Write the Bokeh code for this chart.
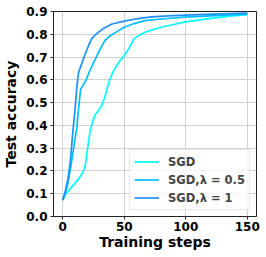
from bokeh.plotting import figure
from bokeh.models import Range1d, Legend, LegendItem, FixedTicker, CustomJSTickFormatter
from bokeh.embed import file_html
from bokeh.resources import INLINE

# SGD
steps_sgd = [0, 2, 5, 9, 13, 16, 18, 19, 20, 21, 22.5, 24, 26, 29, 31, 34, 36, 38, 41, 43, 46, 50, 54, 58, 62, 67, 73, 80, 90, 99, 110, 125, 140, 150]
acc_sgd = [0.072, 0.095, 0.115, 0.14, 0.165, 0.19, 0.215, 0.25, 0.29, 0.33, 0.38, 0.41, 0.443, 0.465, 0.48, 0.52, 0.56, 0.597, 0.635, 0.655, 0.68, 0.707, 0.74, 0.78, 0.795, 0.809, 0.82, 0.831, 0.843, 0.853, 0.862, 0.873, 0.882, 0.886]
# SGD, lambda = 0.5
steps_05 = [0, 2, 4, 6, 8, 10, 11.5, 13, 14.6, 17, 19, 22, 26, 30, 34, 37, 42, 50, 58, 67, 80, 99, 120, 150]
acc_05 = [0.072, 0.1, 0.14, 0.2, 0.27, 0.34, 0.39, 0.48, 0.56, 0.58, 0.6, 0.64, 0.685, 0.73, 0.77, 0.787, 0.805, 0.831, 0.847, 0.86, 0.867, 0.875, 0.881, 0.888]
# SGD, lambda = 1
steps_1 = [0, 2, 4, 5, 6.5, 8, 10, 11.5, 12.8, 14, 15.4, 18, 21, 23.4, 27, 32.7, 40, 50, 60, 72, 90, 110, 130, 150]
acc_1 = [0.072, 0.11, 0.16, 0.19, 0.26, 0.36, 0.47, 0.57, 0.63, 0.65, 0.67, 0.71, 0.75, 0.78, 0.8, 0.824, 0.845, 0.858, 0.868, 0.876, 0.882, 0.886, 0.89, 0.893]

x_ticks = [0, 50, 100, 150]
y_ticks = [0.0, 0.1, 0.2, 0.3, 0.4, 0.5, 0.6, 0.7, 0.8, 0.9]

p = figure(width=262, height=254, output_backend="svg", toolbar_location=None,
           x_range=Range1d(-7.5, 157.5), y_range=Range1d(0, 0.9),
           min_border_left=49, min_border_right=6, min_border_top=11, min_border_bottom=38)

FONT = "DejaVu Sans"
r1 = p.line(steps_sgd, acc_sgd, line_color="#00FFFF", line_width=1.7)
r2 = p.line(steps_05, acc_05, line_color="#00BFFF", line_width=1.7)
r3 = p.line(steps_1, acc_1, line_color="#1E90FF", line_width=1.7)

p.outline_line_color = "#222222"
p.outline_line_width = 1
p.xgrid.grid_line_color = "#d0d0d0"
p.ygrid.grid_line_color = "#d0d0d0"
p.xaxis.ticker = FixedTicker(ticks=x_ticks)
p.yaxis.ticker = FixedTicker(ticks=y_ticks)
p.yaxis.formatter = CustomJSTickFormatter(code="return tick.toFixed(1);")
for ax in (p.xaxis, p.yaxis):
    ax.axis_line_color = None
    ax.major_tick_line_color = "#222222"
    ax.major_tick_out = 3
    ax.major_tick_in = 0
    ax.minor_tick_line_color = None
    ax.major_label_text_font = FONT
    ax.major_label_text_font_style = "bold"
    ax.major_label_text_font_size = "12px"
    ax.major_label_text_color = "black"
    ax.axis_label_text_font = FONT
    ax.axis_label_text_font_style = "bold"
    ax.axis_label_text_font_size = "14px"
    ax.axis_label_text_color = "black"
p.xaxis.axis_label = "Training steps"
p.yaxis.axis_label = "Test accuracy"
p.xaxis.axis_label_standoff = 0
p.yaxis.axis_label_standoff = 4
p.xaxis.major_label_standoff = 2
p.yaxis.major_label_standoff = 3

legend = Legend(items=[LegendItem(label="SGD", renderers=[r1]),
                       LegendItem(label="SGD,λ = 0.5", renderers=[r2]),
                       LegendItem(label="SGD,λ = 1", renderers=[r3])],
                location="bottom_right")
legend.label_text_font = FONT
legend.label_text_font_style = "bold"
legend.label_text_font_size = "11.5px"
legend.glyph_width = 25
legend.glyph_height = 15
legend.label_height = 15
legend.spacing = 3
legend.padding = 4
legend.margin = 6
legend.label_standoff = 9
legend.border_line_color = "#cccccc"
legend.background_fill_alpha = 0.8
p.add_layout(legend)

open("out.html", "w").write(file_html(p, INLINE))
